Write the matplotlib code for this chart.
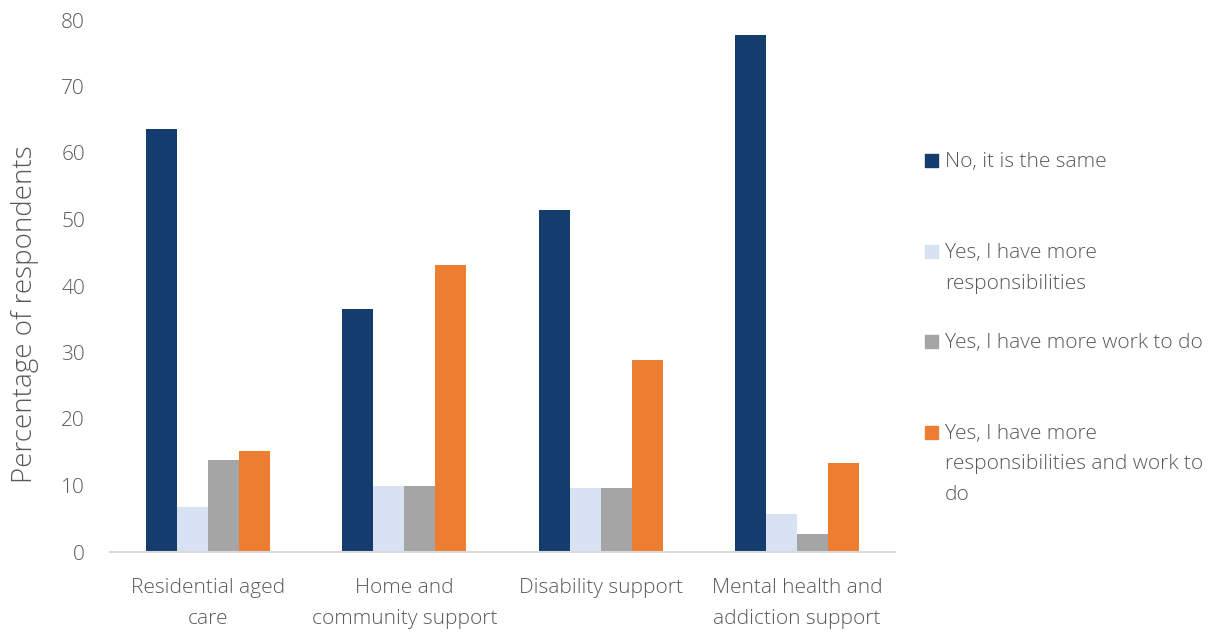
import numpy as np
import matplotlib
matplotlib.use("Agg")
import matplotlib.pyplot as plt
from matplotlib.patches import Rectangle

plt.rcParams['font.family'] = ['Open Sans', 'DejaVu Sans']

categories = ["Residential aged\ncare", "Home and\ncommunity support",
              "Disability support", "Mental health and\naddiction support"]
series_names = ["No, it is the same",
                "Yes, I have more\nresponsibilities",
                "Yes, I have more work to do",
                "Yes, I have more\nresponsibilities and work to\ndo"]
same = [63.6, 36.5, 51.4, 77.7]
more_resp = [6.8, 9.9, 9.6, 5.7]
more_work = [13.8, 9.9, 9.6, 2.7]
resp_and_work = [15.2, 43.2, 28.9, 13.4]
colors = ["#143C6E", "#D9E2F3", "#A5A5A5", "#ED7D31"]

txt = "#595959"
W, H = 1225, 633
fig = plt.figure(figsize=(W / 100, H / 100), dpi=100)
ax = fig.add_axes([110 / W, 1 - 552 / H, 785 / W, 532 / H])

x = np.arange(len(categories))
w = 0.158
for i, vals in enumerate([same, more_resp, more_work, resp_and_work]):
    ax.bar(x + (i - 1.5) * w, vals, w, color=colors[i], label=series_names[i])

ax.set_xlim(-0.5, len(categories) - 0.5)
ax.set_ylim(0, 80)
ax.set_yticks(range(0, 81, 10))
ax.set_xticks(x)
ax.set_xticklabels(categories, fontsize=15, color=txt, linespacing=1.7, fontweight='light')
for t in ax.get_yticklabels():
    t.set_fontweight('light')
ax.tick_params(axis='y', labelsize=15, labelcolor=txt, length=0, pad=18)
ax.tick_params(axis='x', length=0, pad=19)
for s in ['top', 'right', 'left']:
    ax.spines[s].set_visible(False)
ax.spines['bottom'].set_color('#D9D9D9')
ax.spines['bottom'].set_linewidth(1.5)
ax.set_ylabel("Percentage of respondents", fontsize=20, color=txt, labelpad=16,
              fontweight='light', y=0.447)

# legend drawn by hand: square beside the first line of each label
first_line_y = [160, 251, 341, 432]
for i, yy in enumerate(first_line_y):
    fig.patches.append(Rectangle((925 / W, 1 - (yy + 7) / H), 13 / W, 13 / H,
                                 transform=fig.transFigure, color=colors[i]))
    fig.text(945 / W, 1 - (yy - 8) / H, series_names[i], fontsize=15, color=txt,
             va='top', ha='left', linespacing=1.7, fontweight='light')

fig.savefig("out.png", dpi=100)
